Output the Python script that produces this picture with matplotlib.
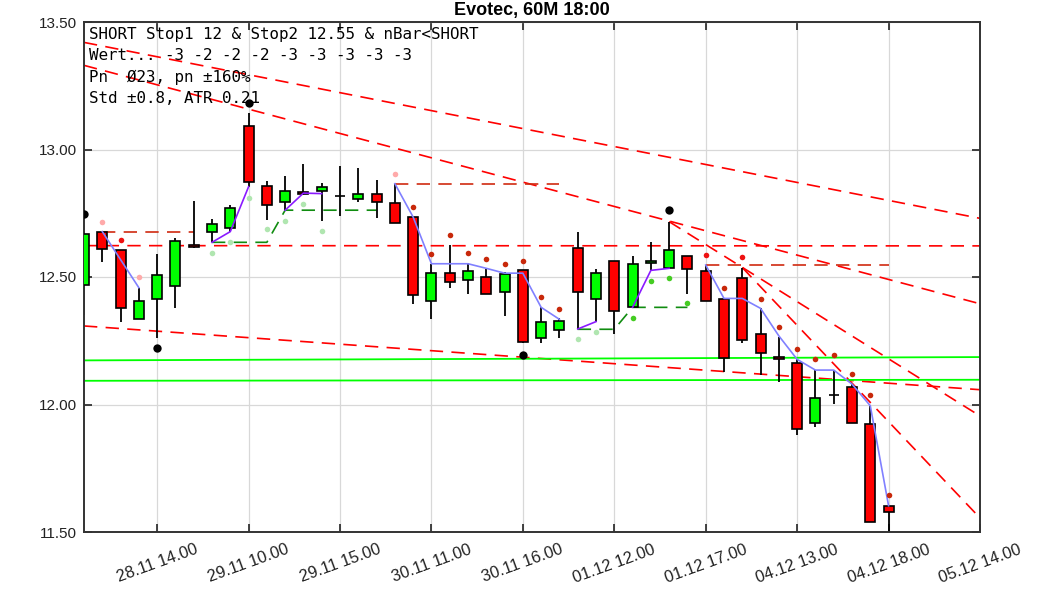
import numpy as np
import matplotlib
matplotlib.use("Agg")
import matplotlib.pyplot as plt

plt.rcParams['font.family'] = ['Liberation Sans', 'DejaVu Sans']

nan = np.nan

# hourly candles, index 0..44
opens = [12.470, 12.678, 12.606, 12.334, 12.413, 12.466, 12.624, 12.675, 12.693, 13.092,
         12.858, 12.795, 12.833, 12.838, 12.817, 12.807, 12.827, 12.791, 12.735, 12.405,
         12.516, 12.487, 12.500, 12.440, 12.527, 12.260, 12.292, 12.612, 12.414, 12.561,
         12.381, 12.554, 12.534, 12.581, 12.522, 12.415, 12.496, 12.275, 12.186, 12.162,
         11.926, 12.037, 12.069, 11.924, 11.603]
highs = [12.680, 12.678, 12.606, 12.458, 12.589, 12.654, 12.798, 12.727, 12.782, 13.142,
         12.878, 12.897, 12.943, 12.867, 12.937, 12.929, 12.880, 12.866, 12.735, 12.552,
         12.625, 12.554, 12.530, 12.521, 12.527, 12.381, 12.340, 12.678, 12.530, 12.561,
         12.582, 12.636, 12.717, 12.581, 12.547, 12.416, 12.537, 12.377, 12.266, 12.177,
         12.135, 12.135, 12.080, 11.995, 11.603]
lows = [12.350, 12.560, 12.325, 12.334, 12.260, 12.380, 12.615, 12.636, 12.678, 12.854,
        12.724, 12.762, 12.823, 12.721, 12.740, 12.793, 12.731, 12.713, 12.394, 12.334,
        12.458, 12.435, 12.432, 12.347, 12.240, 12.242, 12.260, 12.296, 12.325, 12.275,
        12.381, 12.526, 12.534, 12.435, 12.405, 12.129, 12.242, 12.116, 12.087, 11.880,
        11.911, 12.002, 11.926, 11.540, 11.490]
closes = [12.667, 12.611, 12.377, 12.405, 12.507, 12.643, 12.617, 12.708, 12.769, 12.874,
          12.781, 12.837, 12.825, 12.853, 12.817, 12.824, 12.795, 12.713, 12.431, 12.515,
          12.479, 12.524, 12.432, 12.512, 12.244, 12.324, 12.329, 12.441, 12.514, 12.368,
          12.551, 12.561, 12.605, 12.531, 12.405, 12.181, 12.253, 12.203, 12.179, 11.903,
          12.024, 12.037, 11.926, 11.540, 11.580]

tick_pos = [4, 9, 14, 19, 24, 29, 34, 39, 44, 49]
tick_labels = ['28.11 14.00', '29.11 10.00', '29.11 15.00', '30.11 11.00', '30.11 16.00',
               '01.12 12.00', '01.12 17.00', '04.12 13.00', '04.12 18.00', '05.12 14.00']

# trailing lines (index -> value)
short_idx = [1, 2, 3, None, 17, 18, 19, 20, 21, 22, 23, 24, 25, 26, None,
             34, 35, 36, 37, 38, 39, 40, 41, 42, 43, 44]
short_val = [12.678, 12.568, 12.458, nan, 12.866, 12.735, 12.552, 12.552, 12.552, 12.534,
             12.515, 12.515, 12.381, 12.334, nan, 12.547, 12.416, 12.416, 12.377, 12.269,
             12.177, 12.135, 12.135, 12.080, 11.995, 11.603]
long_idx = [7, 8, 9, None, 11, 12, 13, None, 27, 28, None, 30, 31, 32]
long_val = [12.636, 12.678, 12.854, nan, 12.762, 12.829, 12.827, nan, 12.296, 12.325, nan,
            12.381, 12.526, 12.534]

# long stop (green dashed)
lstop_idx = [7, 10, 11, 16, None, 27, 29, 30, 33]
lstop_val = [12.636, 12.636, 12.762, 12.762, nan, 12.295, 12.295, 12.381, 12.381]

# short stop (dark red dashed)
sstop_x0 = [1, 17, 34]
sstop_x1 = [6, 26, 44]
sstop_val = [12.675, 12.866, 12.547]

# trend lines (red dashed): x0, y0, x1, y1
trend_x0 = [0, 0, 0, 0, 32, 36]
trend_y0 = [12.623, 13.420, 13.330, 12.308, 12.717, 12.537]
trend_x1 = [49, 49, 49, 49, 49, 49]
trend_y1 = [12.622, 12.730, 12.395, 12.058, 11.955, 11.555]

# support lines (green)
supp_y0 = [12.173, 12.093]
supp_y1 = [12.186, 12.097]

# dots
pink_idx = [1, 3, 17]
pink_val = [12.716, 12.500, 12.905]
red_idx = [2, 34, 36]
red_val = [12.646, 12.585, 12.578]
dred_idx = [18, 19, 20, 21, 22, 23, 24, 25, 26, 35, 37, 38, 39, 40, 41, 42, 43, 44]
dred_val = [12.776, 12.590, 12.665, 12.595, 12.572, 12.551, 12.564, 12.422, 12.375,
            12.456, 12.414, 12.304, 12.216, 12.177, 12.195, 12.120, 12.036, 11.645]
lgreen_idx = [7, 8, 9, 10, 11, 12, 13, 27, 28]
lgreen_val = [12.595, 12.636, 12.811, 12.687, 12.721, 12.786, 12.682, 12.257, 12.285]
green_idx = [30, 31, 32, 33]
green_val = [12.340, 12.484, 12.497, 12.397]
black_idx = [0, 4, 9, 24, 32]
black_val = [12.746, 12.222, 13.181, 12.195, 12.762]

info_lines = ['SHORT Stop1 12 & Stop2 12.55 & nBar<SHORT',
              'Wert... -3 -2 -2 -2 -3 -3 -3 -3 -3',
              'Pn  Ø23, pn ±160%',
              'Std ±0.8, ATR 0.21']


def xs(idx):
    return [np.nan if i is None else i for i in idx]


fig = plt.figure(figsize=(10.63, 5.91), dpi=100)
ax = fig.add_axes([84 / 1063, 1 - 532 / 591, (980 - 84) / 1063, (532 - 22) / 591])

ax.grid(True, color='#d8d8d8', lw=0.9, zorder=0)
ax.set_axisbelow(True)

# trend lines
for x0, y0, x1, y1 in zip(trend_x0, trend_y0, trend_x1, trend_y1):
    ax.plot([x0, x1], [y0, y1], color='#ff0000', lw=1.2, dashes=(8, 5), zorder=1)
for y0, y1 in zip(supp_y0, supp_y1):
    ax.plot([0, 49], [y0, y1], color='#00ff00', lw=1.3, zorder=1)
for x0, x1, v in zip(sstop_x0, sstop_x1, sstop_val):
    ax.plot([x0, x1], [v, v], color='#d02a10', lw=1.2, dashes=(8, 5), zorder=1)
ax.plot(xs(lstop_idx), lstop_val, color='#108c10', lw=1.2, dashes=(8, 5), zorder=1)

# candles
o = np.array(opens)
c = np.array(closes)
x = np.arange(len(o))
up = c > o
doji = c == o
colors = np.where(up, '#00ff00', '#ff0000')
colors = np.where(doji, 'black', colors)
ax.vlines(x, lows, highs, color='black', lw=1.3, zorder=2)
ax.bar(x, np.abs(c - o), bottom=np.minimum(o, c), width=0.55, color=colors,
       edgecolor='black', linewidth=1.2, zorder=3)

# trailing lines
ax.plot(xs(short_idx), short_val, color='#8080ff', lw=1.2, zorder=4)
ax.plot(xs(long_idx), long_val, color='#8a1aff', lw=1.2, zorder=4)

# dots
ax.plot(pink_idx, pink_val, 'o', color='#ffaaaa', ms=4, mec='none', zorder=5)
ax.plot(red_idx, red_val, 'o', color='#ee1111', ms=4, mec='none', zorder=5)
ax.plot(dred_idx, dred_val, 'o', color='#c8280a', ms=4, mec='none', zorder=5)
ax.plot(lgreen_idx, lgreen_val, 'o', color='#b0e6b0', ms=4, mec='none', zorder=5)
ax.plot(green_idx, green_val, 'o', color='#44cc22', ms=4, mec='none', zorder=5)
ax.plot(black_idx, black_val, 'o', color='black', ms=6, mec='none', zorder=5)

ax.set_xlim(0, 49)
ax.set_ylim(11.5, 13.5)
ax.set_yticks([11.5, 12.0, 12.5, 13.0, 13.5])
ax.set_yticklabels(['11.50', '12.00', '12.50', '13.00', '13.50'], fontsize=11)
ax.set_xticks(tick_pos)
ax.set_xticklabels(tick_labels, rotation=20, ha='center', fontsize=11.8)
ax.tick_params(direction='in', length=6, width=1.2, top=True, right=True,
               colors='#222222', pad=5)
ax.tick_params(axis='x', pad=7)
for s in ax.spines.values():
    s.set_linewidth(1.4)
    s.set_color('#333333')

for k, line in enumerate(info_lines):
    ax.text(0.006, 0.99 - k * 0.0415, line, transform=ax.transAxes, fontsize=11.4,
            family='DejaVu Sans Mono', va='top', ha='left', zorder=6)

ax.set_title('Evotec, 60M 18:00', fontsize=13, fontweight='bold', pad=5)

fig.savefig('out.png', dpi=100)
